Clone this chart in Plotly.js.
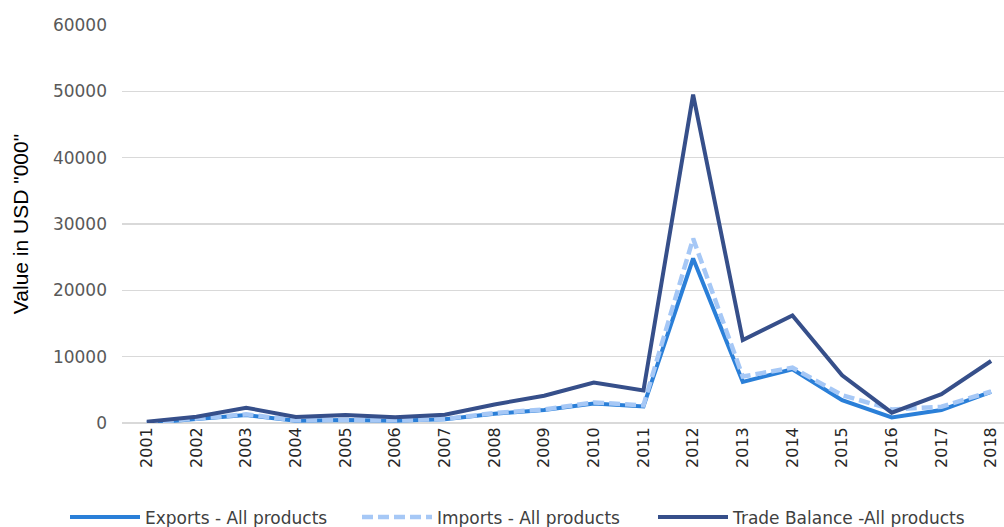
<!DOCTYPE html>
<html>
<head>
<meta charset="utf-8">
<script src="https://cdn.plot.ly/plotly-3.0.1.min.js"></script>
<style>html,body{margin:0;padding:0;background:#fff;}#chart{width:1004px;height:527px;}</style>
</head>
<body>
<div id="chart"></div>
<script>
const years = ["2001","2002","2003","2004","2005","2006","2007","2008","2009","2010","2011","2012","2013","2014","2015","2016","2017","2018"];
const exportsVals = [0, 550, 1200, 350, 450, 350, 550, 1400, 1950, 2950, 2500, 24800, 6200, 8100, 3450, 850, 1950, 4700];
const importsVals = [50, 600, 1300, 400, 500, 400, 600, 1500, 2050, 3100, 2650, 27800, 7000, 8350, 4200, 2050, 2450, 4750];
const balanceVals = [200, 950, 2300, 900, 1200, 850, 1250, 2800, 4100, 6100, 4900, 49500, 12500, 16200, 7200, 1550, 4350, 9350];
const yTicks = [0, 10000, 20000, 30000, 40000, 50000, 60000];

const traces = [
  {x: years, y: exportsVals, type: "scatter", mode: "lines", name: "Exports - All products",
   line: {color: "#2a7fd8", width: 4}, legend: "legend"},
  {x: years, y: importsVals, type: "scatter", mode: "lines", name: "Imports - All products",
   line: {color: "#a6c8f6", width: 4.5, dash: "11px,5px"}, legend: "legend2"},
  {x: years, y: balanceVals, type: "scatter", mode: "lines", name: "Trade Balance -All products",
   line: {color: "#364f8a", width: 4}, legend: "legend3"}
];

const legendFont = {family: "DejaVu Sans, sans-serif", size: 17, color: "#404040"};
function legendAt(px) {
  return {orientation: "h", xref: "container", yref: "container",
    x: px / 1004, xanchor: "left", y: 0.018, yanchor: "middle",
    font: legendFont, itemwidth: 70, bgcolor: "rgba(0,0,0,0)"};
}

const layout = {
  width: 1004, height: 527,
  margin: {l: 122, r: 0, t: 25, b: 104},
  paper_bgcolor: "#fff", plot_bgcolor: "#fff",
  font: {family: "DejaVu Sans, sans-serif", color: "#595959", size: 16},
  xaxis: {
    type: "category", range: [-0.5, 17.26], tickangle: -90,
    showgrid: false, zeroline: false, showline: false, ticks: "",
    automargin: false,
    tickfont: {size: 16, color: "#262626"}
  },
  yaxis: {
    range: [0, 60000], tickvals: yTicks, ticktext: yTicks.map(String),
    showgrid: true, gridcolor: "#d9d9d9", gridwidth: 1.5,
    zeroline: true, zerolinecolor: "#d9d9d9", zerolinewidth: 1.5,
    showline: false, ticks: "", ticklabelstandoff: 14, automargin: false,
    tickfont: {size: 17, color: "#595959"},
    title: {text: 'Value in USD "000"', font: {family: "Liberation Sans, Arial, sans-serif", size: 21, color: "#000"}, standoff: 18}
  },
  showlegend: true,
  legend: legendAt(65),
  legend2: legendAt(357),
  legend3: legendAt(653)
};

Plotly.newPlot("chart", traces, layout, {displayModeBar: false, staticPlot: true});
</script>
</body>
</html>
